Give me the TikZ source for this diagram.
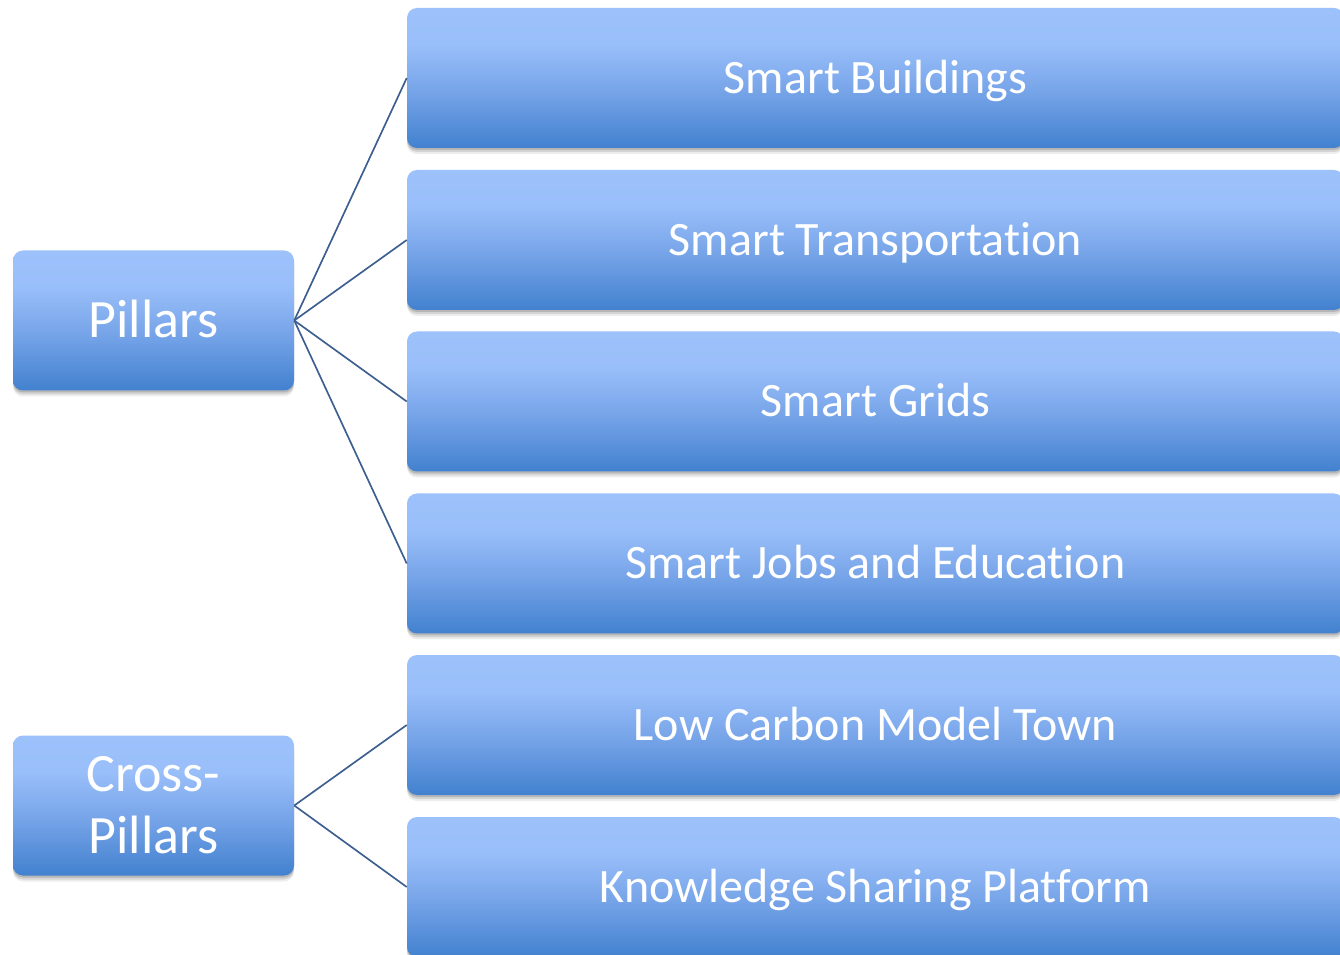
\documentclass[tikz,border=0pt]{standalone}
\usepackage{fontspec}
\setmainfont[Ligatures=NoCommon]{Carlito}
\usetikzlibrary{shadows}
\definecolor{bdark}{HTML}{4281CF}
\definecolor{bmid}{HTML}{78A5E9}
\definecolor{blight}{HTML}{9CC1FB}
\definecolor{linec}{HTML}{3D5F90}
\pgfdeclareverticalshading{boxshade}{100bp}{color(0bp)=(bdark); color(25bp)=(bdark); color(46bp)=(bmid); color(62bp)=(blight!92!bmid); color(75bp)=(blight); color(100bp)=(blight)}
\begin{document}
\begin{tikzpicture}[x=0.75pt,y=-0.75pt,
  box/.style={rectangle, rounded corners=7.5pt, shading=boxshade, draw=none, text=white,
    drop shadow={opacity=0.07, shadow xshift=0pt, shadow yshift=-4.5pt, fill=black},
    drop shadow={opacity=0.10, shadow xshift=0pt, shadow yshift=-3pt, fill=black},
    drop shadow={opacity=0.14, shadow xshift=0pt, shadow yshift=-1.5pt, fill=black},
    inner sep=0pt, minimum height=140*0.75pt},
  leftbox/.style={box, minimum width=281*0.75pt, font=\fontsize{40.5}{46.5}\selectfont, align=center},
  rightbox/.style={box, minimum width=937*0.75pt, font=\fontsize{36}{43}\selectfont, text height=23.2pt, text depth=0pt},
  conn/.style={draw=linec, line width=1.25pt}]
\fill[white] (0,0) rectangle (1340,955);
\useasboundingbox (0,0) rectangle (1340,955);
\clip (0,0) rectangle (1340,955);
\node[leftbox, text height=26.1pt, text depth=0pt] (p) at (153.5,320.5) {Pillars};
\node[leftbox] (cp) at (153.5,805.5) {Cross-\\Pillars};
\node[rightbox] (b1) at (875.5,78) {Smart Buildings};
\node[rightbox] (b2) at (875.5,240) {Smart Transportation};
\node[rightbox] (b3) at (875.5,401.5) {Smart Grids};
\node[rightbox] (b4) at (875.5,563.5) {Smart Jobs and Education};
\node[rightbox] (b5) at (875.5,725) {Low Carbon Model Town};
\node[rightbox] (b6) at (875.5,887) {Knowledge Sharing Platform};
\draw[conn] (p.east) -- (b1.west);
\draw[conn] (p.east) -- (b2.west);
\draw[conn] (p.east) -- (b3.west);
\draw[conn] (p.east) -- (b4.west);
\draw[conn] (cp.east) -- (b5.west);
\draw[conn] (cp.east) -- (b6.west);
\end{tikzpicture}
\end{document}
